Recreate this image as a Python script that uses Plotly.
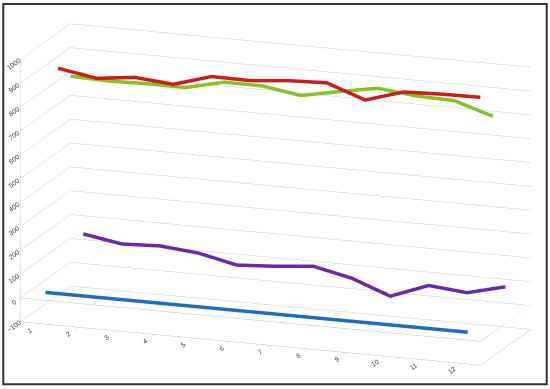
import math
import plotly.graph_objects as go

categories = [1, 2, 3, 4, 5, 6, 7, 8, 9, 10, 11, 12]
tick_labels = ["1", "2", "3", "4", "5", "6", "7", "8", "9", "10", "11", "12"]
series_names = ["Series1", "Series2", "Series3", "Series4"]
series_depth = [1, 2, 3, 4]
series_colors = ["#1F6DBF", "#C81E1E", "#86C226", "#6A2AA8"]

blue_vals = [12, 12, 12, 12, 12, 12, 12, 12, 12, 12, 12, 12]
red_vals = [915, 888, 907, 893, 941, 939, 954, 960, 903, 952, 958, 960]
green_vals = [844, 839, 843, 842, 880, 879, 854, 886, 915, 898, 893, 843]
purple_vals = [145, 118, 125, 110, 75, 85, 100, 65, 5, 65, 50, 90]

value_ticks = [-100, 0, 100, 200, 300, 400, 500, 600, 700, 800, 900, 1000]

x_range = [0.5, 12.5]
depth_range = [0.5, 4.5]
value_range = [-100, 1000]

all_vals = [blue_vals, red_vals, green_vals, purple_vals]

fig = go.Figure()

# outline of the zero-level plane (category axis at 0), as in the original
fig.add_trace(go.Scatter3d(
    x=[x_range[0], x_range[1], x_range[1]],
    y=[depth_range[0], depth_range[0], depth_range[1]],
    z=[0, 0, 0], mode="lines", line=dict(color="#BFBFBF", width=1),
    showlegend=False, hoverinfo="skip"))

for name, d, col, vals in zip(series_names, series_depth, series_colors, all_vals):
    fig.add_trace(go.Scatter3d(
        x=categories, y=[d] * len(categories), z=vals,
        mode="lines", name=name,
        line=dict(color=col, width=7),
        showlegend=False, hoverinfo="skip"))

rot_x = math.radians(20)
rot_y = math.radians(15)
dist = 4.5
eye = dict(x=dist * math.cos(rot_y) * math.sin(rot_x),
           y=-dist * math.cos(rot_y) * math.cos(rot_x),
           z=dist * math.sin(rot_y))

axis_common = dict(showbackground=False, showspikes=False, title=dict(text=""))
fig.update_layout(
    width=550, height=389,
    margin=dict(l=0, r=0, t=0, b=0),
    paper_bgcolor="white",
    scene=dict(
        domain=dict(x=[0.01, 0.99], y=[0.015, 0.985]),
        xaxis=dict(range=x_range, tickvals=categories, ticktext=tick_labels,
                   showgrid=False, showline=True, linecolor="#BFBFBF", zeroline=False,
                   ticks="outside", tickcolor="#BFBFBF",
                   tickfont=dict(family="Liberation Sans", size=9, color="#404040"),
                   **axis_common),
        yaxis=dict(range=depth_range, showticklabels=False, showgrid=False,
                   showline=True, linecolor="#BFBFBF", zeroline=False, ticks="",
                   **axis_common),
        zaxis=dict(range=value_range, tickvals=value_ticks,
                   showgrid=True, gridcolor="#C8C8C8", gridwidth=1,
                   showline=True, linecolor="#BFBFBF", zeroline=False,
                   tickfont=dict(family="Liberation Sans", size=9, color="#404040"),
                   **axis_common),
        aspectmode="manual",
        aspectratio=dict(x=2.6, y=0.78, z=1.44),
        camera=dict(eye=eye, center=dict(x=0, y=0, z=0),
                    up=dict(x=0, y=0, z=1), projection=dict(type="orthographic")),
    ),
    shapes=[dict(type="rect", xref="paper", yref="paper", x0=0.006, x1=0.994,
                 y0=0.012, y1=0.99, line=dict(color="#333333", width=2))],
)

fig.write_html("out.html", post_script="document.body.style.margin='0';",
               config={"displayModeBar": False})
